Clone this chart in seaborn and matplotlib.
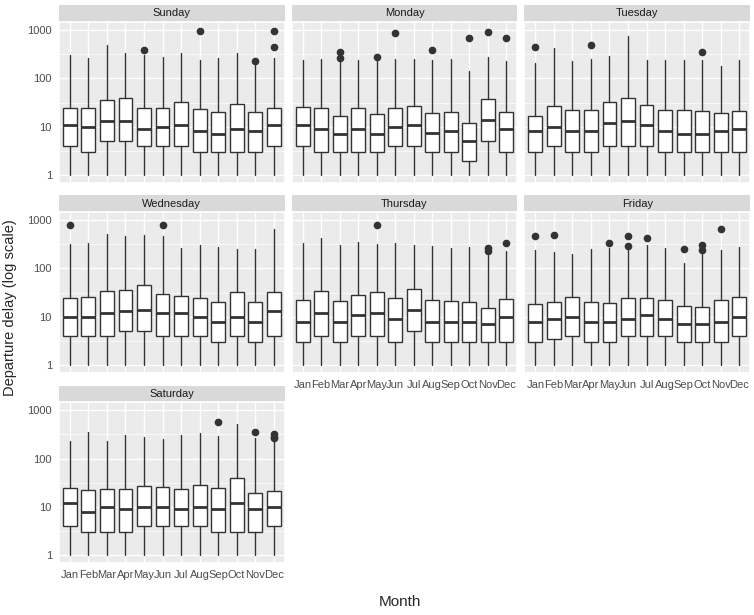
import numpy as np
import seaborn as sns
import matplotlib.pyplot as plt
from matplotlib.patches import Rectangle

months = ["Jan", "Feb", "Mar", "Apr", "May", "Jun", "Jul", "Aug", "Sep", "Oct", "Nov", "Dec"]
days = ["Sunday", "Monday", "Tuesday", "Wednesday", "Thursday", "Friday", "Saturday"]

med = {
    "Sunday": [11, 10, 13, 13, 9, 10, 11, 8, 7, 9, 8, 11],
    "Monday": [11, 9, 7, 9, 7, 10, 11, 7.5, 8, 5, 14, 9],
    "Tuesday": [8, 10, 8, 8, 12, 13, 11, 8, 7, 7, 8, 9],
    "Wednesday": [10, 10, 12, 13, 14, 12, 12, 10, 8, 10, 8, 13],
    "Thursday": [8, 12, 8, 11, 12, 9, 14, 8, 8, 8, 7, 10],
    "Friday": [8, 9, 10, 8, 8, 9, 11, 9, 7, 7, 8, 10],
    "Saturday": [12, 8, 10, 9, 10, 10, 9, 10, 9, 12, 9, 10],
}
q1 = {
    "Sunday": [4, 3, 5, 5, 4, 4, 4, 3, 3, 3, 3, 4],
    "Monday": [4, 3, 3, 3, 3, 4, 4, 3, 3, 2, 5, 3],
    "Tuesday": [3, 4, 3, 3, 4, 4, 4, 3, 3, 3, 3, 3],
    "Wednesday": [4, 4, 4, 5, 5, 4, 4, 4, 3, 4, 3, 4],
    "Thursday": [3, 4, 3, 4, 4, 3, 5, 3, 3, 3, 3, 3],
    "Friday": [3, 3.5, 4, 3, 3, 4, 4, 4, 3, 3, 3, 4],
    "Saturday": [4, 3, 3, 3, 4, 4, 4, 4, 3, 3, 3, 4],
}
q3 = {
    "Sunday": [24, 25, 35, 40, 24, 25, 33, 23, 20, 30, 20, 24],
    "Monday": [26, 25, 17, 24, 18, 25, 27, 19, 20, 12, 38, 20],
    "Tuesday": [17, 27, 22, 22, 33, 40, 28, 22, 22, 21, 19, 21],
    "Wednesday": [24, 26, 35, 36, 46, 30, 27, 24, 20, 33, 20, 33],
    "Thursday": [22, 34, 21, 28, 32, 25, 37, 22, 21, 20, 15, 23],
    "Friday": [18, 20, 26, 20, 19, 24, 25, 22, 17, 16, 22, 26],
    "Saturday": [24, 22, 23, 23, 27, 26, 23, 29, 24, 40, 19, 21],
}
whis_hi = {
    "Sunday": [300, 270, 480, 330, 310, 280, 340, 240, 270, 330, 190, 270],
    "Monday": [240, 250, 230, 240, 260, 250, 250, 240, 250, 140, 280, 230],
    "Tuesday": [210, 430, 230, 250, 290, 750, 240, 240, 240, 240, 180, 240],
    "Wednesday": [320, 330, 510, 480, 500, 480, 270, 310, 280, 250, 250, 640],
    "Thursday": [340, 420, 300, 360, 320, 330, 300, 290, 270, 280, 190, 230],
    "Friday": [240, 220, 200, 250, 260, 260, 300, 260, 130, 240, 240, 280],
    "Saturday": [230, 350, 230, 300, 280, 250, 300, 330, 290, 510, 270, 230],
}
fliers = {
    "Sunday": {"May": [380], "Aug": [950], "Nov": [230], "Dec": [950, 450]},
    "Monday": {"Mar": [350, 270], "May": [280], "Jun": [850], "Aug": [380],
               "Oct": [700], "Nov": [900], "Dec": [680]},
    "Tuesday": {"Jan": [450], "Apr": [480], "Oct": [350]},
    "Wednesday": {"Jan": [780], "Jun": [800]},
    "Thursday": {"May": [780], "Nov": [260, 230], "Dec": [340]},
    "Friday": {"Jan": [480], "Feb": [500], "May": [330], "Jun": [480, 290],
               "Jul": [420], "Sep": [250], "Oct": [300, 240], "Nov": [650]},
    "Saturday": {"Sep": [580], "Nov": [350], "Dec": [320, 280, 260]},
}

sns.set_theme(style="darkgrid", rc={"axes.facecolor": "#ebebeb", "grid.color": "white"})
plt.rcParams['font.family'] = ['Liberation Sans', 'DejaVu Sans']

fig, axes = plt.subplots(3, 3, figsize=(7.54, 6.15), dpi=100, sharey=True)
fig.subplots_adjust(left=0.078, right=0.995, top=0.965, bottom=0.085, wspace=0.03, hspace=0.18)

for i, ax in enumerate(axes.flat):
    if i >= len(days):
        ax.set_visible(False)
        continue
    d = days[i]
    stats = []
    for j, m in enumerate(months):
        stats.append(dict(med=med[d][j], q1=q1[d][j], q3=q3[d][j], whislo=1,
                          whishi=whis_hi[d][j], fliers=fliers[d].get(m, []), label=m))
    ax.bxp(stats, widths=0.75, patch_artist=True,
           boxprops=dict(facecolor="white", edgecolor="#333333", linewidth=1),
           medianprops=dict(color="#333333", linewidth=2),
           whiskerprops=dict(color="#333333"), capprops=dict(linewidth=0),
           flierprops=dict(marker="o", markerfacecolor="#333333", markeredgecolor="#333333", markersize=4.5))
    ax.set_yscale("log")
    ax.set_ylim(0.7, 1500)
    ax.set_xlim(0.4, 12.6)
    ax.set_yticks([1, 10, 100, 1000])
    ax.set_yticklabels(["1", "10", "100", "1000"])
    ax.minorticks_off()
    ax.grid(True, which="major", color="white", linewidth=1)
    for v in [3.16, 31.6, 316]:
        ax.axhline(v, color="white", linewidth=0.5, zorder=0)
    ax.tick_params(labelsize=8, colors="#4d4d4d", length=3, pad=2)
    if i in (4, 5, 6):
        ax.set_xticks(range(1, 13))
        ax.set_xticklabels(months)
    else:
        ax.set_xticklabels([])
        ax.tick_params(axis="x", length=0)
    ax.add_patch(Rectangle((0, 1.0), 1, 0.1, transform=ax.transAxes, facecolor="#d9d9d9",
                           edgecolor="none", clip_on=False))
    ax.text(0.5, 1.05, d, transform=ax.transAxes, ha="center", va="center", fontsize=8, color="#1a1a1a")

fig.text(0.53, 0.015, "Month", ha="center", fontsize=11)
fig.text(0.004, 0.5, "Departure delay (log scale)", va="center", rotation=90, fontsize=10.5)
fig.savefig("out.png", dpi=100)
